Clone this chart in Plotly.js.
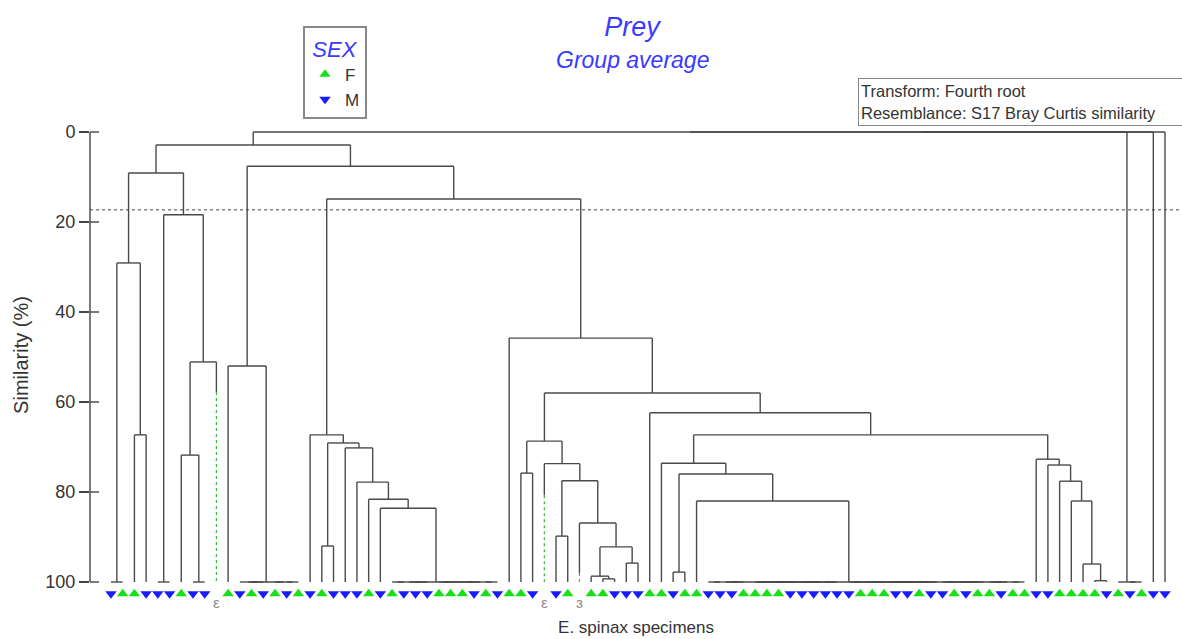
<!DOCTYPE html>
<html><head><meta charset="utf-8">
<script src="https://cdn.plot.ly/plotly-3.0.1.min.js"></script>
<style>html,body{margin:0;padding:0;background:#fff}#chart{width:1182px;height:639px}</style>
</head><body><div id="chart"></div>
<script>
// Leaf order along the x axis (F = female, M = male, U = undefined sex)
const leafSex = ['M','F','F','M','M','M','F','M','M','U',
  'F','M','F','M','F','M','F','M','F','M',
  'M','M','F','M','F','M','M','M','F','F',
  'F','M','F','M','F','F','M','U','M','F',
  'U','F','F','M','M','M','F','F','M','F',
  'F','M','M','M','F','F','F','F','M','M',
  'M','M','M','M','F','F','F','M','M','F',
  'M','M','F','M','F','F','M','F','F','M',
  'M','F','F','F','F','M','F','M','F','M','M'];

// Linkage: node ids 0..90 are leaves, join k creates node 91+k
const joinA = [0,2,91,4,7,6,96,94,93,12,11,15,14,101,10,18,24,26,107,28,30,32,111,110,109,23,22,21,20,106,17,35,38,42,41,44,125,40,123,37,122,48,51,53,133,55,57,59,61,136,138,140,135,63,65,67,69,71,73,75,77,144,146,148,150,152,154,156,143,50,132,47,84,83,82,81,80,79,162,46,131,34,121,105,99,87,86,175,178,179];
const joinB = [1,3,92,5,8,95,9,97,98,13,100,16,102,103,104,19,25,27,108,29,31,33,112,113,114,115,116,117,118,119,120,36,39,43,124,45,126,127,128,129,130,49,52,54,134,56,58,60,62,137,139,141,142,64,66,68,70,72,74,76,78,145,147,149,151,153,155,157,158,159,160,161,85,163,164,165,166,167,168,169,170,171,172,173,174,88,176,177,89,90];
const joinSim = [100,67.3,29.1,100,100,71.8,51.1,18.4,9.1,100,100,100,100,100,52.0,92.0,100,100,100,100,100,100,100,100,100,83.6,81.6,77.8,70.2,69.1,67.3,75.8,89.8,99.3,98.7,95.8,92.2,86.9,77.5,73.7,68.7,97.8,100,100,100,100,100,100,100,100,100,100,100,100,100,100,100,100,100,100,100,100,100,100,100,100,100,100,100,82.0,76.0,73.6,99.7,96.0,82.0,77.6,74.0,72.7,67.3,62.4,58.0,45.8,14.9,7.6,2.9,100,100,0,0,0];

const undefinedLeaves = [9, 37, 40];
const undefinedLabels = ['ε', 'ε', 'ɜ'];
const dottedFrom = [57.8, 80.7, 98.0];
const sliceSimilarity = 17.3;
const yTickVals = [0, 20, 40, 60, 80, 100];

const lineColor = '#4a4a4a';
const nLeaf = leafSex.length;
const nodeX = [], nodeSim = [];
for (let i = 0; i < nLeaf; i++) { nodeX.push(i); nodeSim.push(100); }
const lx = [], ly = [], gx = [], gy = [];
function leg(c, h) {
  const ui = undefinedLeaves.indexOf(c);
  if (ui >= 0) {
    lx.push(nodeX[c], nodeX[c], null); ly.push(h, dottedFrom[ui], null);
    gx.push(nodeX[c], nodeX[c], null); gy.push(dottedFrom[ui], 100, null);
  } else {
    lx.push(nodeX[c], nodeX[c], null); ly.push(h, nodeSim[c], null);
  }
}
for (let k = 0; k < joinA.length; k++) {
  const a = joinA[k], b = joinB[k], h = joinSim[k];
  lx.push(nodeX[a], nodeX[b], null); ly.push(h, h, null);
  leg(a, h); leg(b, h);
  nodeX.push((nodeX[a] + nodeX[b]) / 2); nodeSim.push(h);
}

const fX = [], mX = [];
leafSex.forEach((s, i) => { if (s === 'F') fX.push(i); else if (s === 'M') mX.push(i); });
const markerY = 102.6;

const traces = [
  {x: lx, y: ly, mode: 'lines', line: {color: lineColor, width: 1.4}, hoverinfo: 'skip', showlegend: false, connectgaps: false},
  {x: gx, y: gy, mode: 'lines', line: {color: '#33bb33', width: 1.2, dash: 'dot'}, hoverinfo: 'skip', showlegend: false},
  {x: fX, y: fX.map(() => markerY), mode: 'markers', name: 'F', cliponaxis: false,
   marker: {symbol: 'triangle-up', size: 10, color: '#18e018', line: {width: 0}}},
  {x: mX, y: mX.map(() => markerY), mode: 'markers', name: 'M', cliponaxis: false,
   marker: {symbol: 'triangle-down', size: 10, color: '#1a1aff', line: {width: 0}}},
  {x: undefinedLeaves, y: undefinedLeaves.map(() => 104.9), mode: 'text', text: undefinedLabels,
   textfont: {size: 15, color: '#888'}, cliponaxis: false, showlegend: false, hoverinfo: 'skip'}
];

const plotL = 90, plotR = 1182, plotT = 100, plotB = 610;
const pw = plotR - plotL, ph = plotB - plotT;
const shapes = [
  {type: 'line', xref: 'paper', yref: 'y', x0: 0, x1: 0, y0: 0, y1: 100, line: {color: '#444', width: 1.4}},
  {type: 'line', xref: 'paper', yref: 'y', x0: 0, x1: 1, y0: sliceSimilarity, y1: sliceSimilarity, line: {color: '#444', width: 1, dash: 'dot'}}
];
yTickVals.forEach(v => shapes.push({type: 'line', xref: 'paper', yref: 'y', x0: 0, x1: 9 / pw, y0: v, y1: v, line: {color: '#444', width: 1.4}}));

const layout = {
  width: 1182, height: 639,
  margin: {l: plotL, r: 1182 - plotR, t: plotT, b: 639 - plotB, pad: 0},
  paper_bgcolor: '#fff', plot_bgcolor: '#fff',
  font: {family: 'Arial, "Liberation Sans", sans-serif', color: '#333'},
  title: {text: 'Prey', font: {size: 27, color: '#3a3aff', style: 'italic'},
          xref: 'container', x: 632 / 1182, xanchor: 'center', yref: 'container', y: 1 - 27 / 639, yanchor: 'middle'},
  xaxis: {range: [-1.793, 91.45], showgrid: false, zeroline: false, showline: false, ticks: '', showticklabels: false,
          title: {text: 'E. spinax specimens', font: {size: 17, color: '#333'}, standoff: 11}},
  yaxis: {range: [106.22, -7.11], tickvals: yTickVals, ticks: 'outside', ticklen: 10, tickwidth: 1.4, tickcolor: '#444',
          showgrid: false, zeroline: false, showline: false, tickfont: {size: 18, color: '#333'},
          title: {text: 'Similarity (%)', font: {size: 20, color: '#333'}, standoff: 11}},
  legend: {x: (303 - plotL) / pw, y: (plotB - 26) / ph, xanchor: 'left', yanchor: 'top',
           bordercolor: '#888', borderwidth: 2, bgcolor: '#fff', font: {size: 17, color: '#333'},
           title: {text: 'SEX', side: 'top center', font: {size: 22, color: '#3a3aff', style: 'italic'}},
           itemwidth: 30, tracegroupgap: 0},
  shapes: shapes,
  annotations: [
    {xref: 'paper', yref: 'paper', x: (632 - plotL) / pw, y: (plotB - 60) / ph, xanchor: 'center', yanchor: 'middle',
     text: 'Group average', showarrow: false, font: {size: 23, color: '#3a3aff', style: 'italic'}},
    {xref: 'paper', yref: 'paper', x: (858 - plotL) / pw, y: (plotB - 78) / ph, xanchor: 'left', yanchor: 'top',
     text: 'Transform: Fourth root<br>Resemblance: S17 Bray Curtis similarity', align: 'left', valign: 'middle',
     showarrow: false, font: {size: 16.5, color: '#333'}, bordercolor: '#888', borderwidth: 1, borderpad: 2,
     width: 322, height: 42, bgcolor: '#fff'}
  ]
};

Plotly.newPlot('chart', traces, layout, {displayModeBar: false, staticPlot: true});
</script>
</body></html>
